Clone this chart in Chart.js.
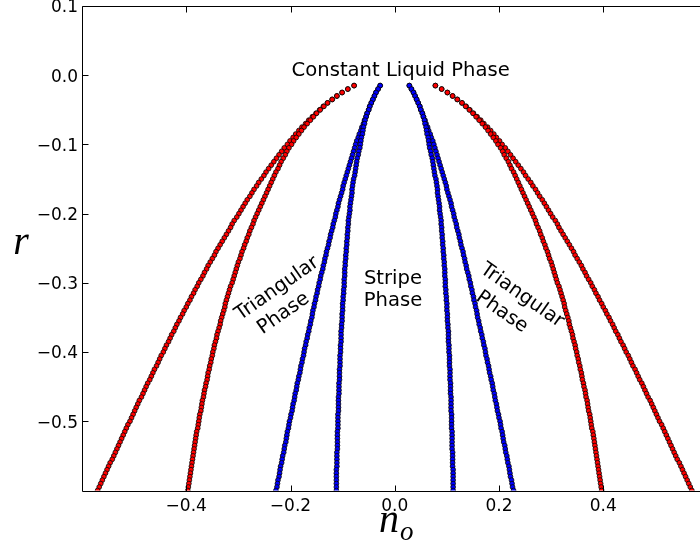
<!DOCTYPE html>
<html>
<head>
<meta charset="utf-8">
<title>Phase diagram</title>
<script src="https://cdn.jsdelivr.net/npm/chart.js@4.4.0/dist/chart.umd.min.js"></script>
<style>
  html, body { margin: 0; padding: 0; background: #fff; overflow: hidden; }
  #wrap { width: 700px; height: 547px; overflow: hidden; }
</style>
</head>
<body>
<div id="wrap"><canvas id="phase" width="712" height="547"></canvas></div>
<script>
// r values shared by every boundary curve
const rValues = [
  -0.015, -0.020, -0.025, -0.030, -0.035, -0.040, -0.045, -0.050, -0.055, -0.060,
  -0.065, -0.070, -0.075, -0.080, -0.085, -0.090, -0.095, -0.100, -0.105, -0.110,
  -0.115, -0.120, -0.125, -0.130, -0.135, -0.140, -0.145, -0.150, -0.155, -0.160,
  -0.165, -0.170, -0.175, -0.180, -0.185, -0.190, -0.195, -0.200, -0.205, -0.210,
  -0.215, -0.220, -0.225, -0.230, -0.235, -0.240, -0.245, -0.250, -0.255, -0.260,
  -0.265, -0.270, -0.275, -0.280, -0.285, -0.290, -0.295, -0.300, -0.305, -0.310,
  -0.315, -0.320, -0.325, -0.330, -0.335, -0.340, -0.345, -0.350, -0.355, -0.360,
  -0.365, -0.370, -0.375, -0.380, -0.385, -0.390, -0.395, -0.400, -0.405, -0.410,
  -0.415, -0.420, -0.425, -0.430, -0.435, -0.440, -0.445, -0.450, -0.455, -0.460,
  -0.465, -0.470, -0.475, -0.480, -0.485, -0.490, -0.495, -0.500, -0.505, -0.510,
  -0.515, -0.520, -0.525, -0.530, -0.535, -0.540, -0.545, -0.550, -0.555, -0.560,
  -0.565, -0.570, -0.575, -0.580, -0.585, -0.590, -0.595, -0.600
];

// |n_o| of each coexistence boundary at the r values above.
// The diagram is symmetric in n_o, every curve is drawn at +n_o and -n_o.

// liquid side of liquid / triangular coexistence (red, outer)
const liquidEdge = [
  0.078, 0.090, 0.101, 0.111, 0.120, 0.129, 0.137, 0.144, 0.151, 0.158,
  0.165, 0.171, 0.178, 0.184, 0.190, 0.195, 0.201, 0.206, 0.212, 0.217,
  0.222, 0.227, 0.232, 0.237, 0.242, 0.247, 0.251, 0.256, 0.261, 0.265,
  0.270, 0.274, 0.278, 0.283, 0.287, 0.291, 0.295, 0.299, 0.303, 0.308,
  0.312, 0.315, 0.319, 0.323, 0.327, 0.331, 0.335, 0.339, 0.343, 0.346,
  0.350, 0.354, 0.358, 0.361, 0.365, 0.368, 0.372, 0.376, 0.379, 0.383,
  0.386, 0.390, 0.393, 0.397, 0.400, 0.404, 0.407, 0.411, 0.414, 0.418,
  0.421, 0.424, 0.428, 0.431, 0.434, 0.438, 0.441, 0.444, 0.448, 0.451,
  0.454, 0.457, 0.461, 0.464, 0.467, 0.470, 0.474, 0.477, 0.480, 0.483,
  0.486, 0.490, 0.493, 0.496, 0.499, 0.502, 0.505, 0.508, 0.512, 0.515,
  0.518, 0.521, 0.524, 0.527, 0.530, 0.533, 0.536, 0.539, 0.542, 0.546,
  0.549, 0.552, 0.555, 0.558, 0.561, 0.564, 0.567, 0.570
];

// triangular side of liquid / triangular coexistence (red, inner)
const triangleLiquidEdge = [
  0.078, 0.090, 0.101, 0.111, 0.120, 0.129, 0.136, 0.143, 0.150, 0.156,
  0.162, 0.168, 0.174, 0.179, 0.184, 0.189, 0.194, 0.198, 0.203, 0.207,
  0.210, 0.214, 0.218, 0.221, 0.224, 0.228, 0.231, 0.234, 0.237, 0.240,
  0.243, 0.246, 0.249, 0.252, 0.255, 0.258, 0.261, 0.264, 0.267, 0.270,
  0.272, 0.275, 0.278, 0.280, 0.283, 0.285, 0.288, 0.290, 0.293, 0.295,
  0.297, 0.300, 0.302, 0.304, 0.306, 0.308, 0.310, 0.312, 0.315, 0.317,
  0.319, 0.321, 0.323, 0.325, 0.326, 0.328, 0.330, 0.332, 0.334, 0.335,
  0.337, 0.339, 0.341, 0.342, 0.344, 0.346, 0.347, 0.349, 0.350, 0.352,
  0.353, 0.355, 0.356, 0.358, 0.359, 0.360, 0.362, 0.363, 0.365, 0.366,
  0.367, 0.369, 0.370, 0.371, 0.372, 0.374, 0.375, 0.376, 0.377, 0.378,
  0.380, 0.381, 0.382, 0.383, 0.384, 0.385, 0.386, 0.387, 0.388, 0.389,
  0.390, 0.391, 0.392, 0.393, 0.394, 0.395, 0.396, 0.397
];

// triangular side of triangular / stripe coexistence (blue, outer)
const triangleStripeEdge = [
  0.028, 0.032, 0.036, 0.039, 0.042, 0.045, 0.048, 0.050, 0.053, 0.055,
  0.058, 0.060, 0.063, 0.065, 0.068, 0.070, 0.073, 0.075, 0.077, 0.079,
  0.081, 0.083, 0.085, 0.087, 0.089, 0.091, 0.093, 0.095, 0.097, 0.099,
  0.100, 0.102, 0.104, 0.106, 0.108, 0.109, 0.111, 0.113, 0.114, 0.116,
  0.118, 0.119, 0.121, 0.123, 0.124, 0.126, 0.127, 0.129, 0.131, 0.132,
  0.134, 0.135, 0.137, 0.138, 0.140, 0.142, 0.143, 0.145, 0.146, 0.148,
  0.149, 0.151, 0.152, 0.154, 0.155, 0.157, 0.158, 0.159, 0.161, 0.162,
  0.164, 0.165, 0.167, 0.168, 0.170, 0.171, 0.173, 0.174, 0.175, 0.177,
  0.178, 0.180, 0.181, 0.182, 0.184, 0.185, 0.187, 0.188, 0.189, 0.191,
  0.192, 0.193, 0.195, 0.196, 0.197, 0.199, 0.200, 0.202, 0.203, 0.204,
  0.206, 0.207, 0.208, 0.209, 0.211, 0.212, 0.213, 0.215, 0.216, 0.217,
  0.219, 0.220, 0.221, 0.222, 0.224, 0.225, 0.226, 0.228
];

// stripe side of triangular / stripe coexistence (blue, inner)
const stripeEdge = [
  0.028, 0.032, 0.036, 0.039, 0.042, 0.045, 0.048, 0.050, 0.053, 0.055,
  0.057, 0.058, 0.060, 0.061, 0.062, 0.064, 0.065, 0.066, 0.067, 0.069,
  0.070, 0.072, 0.073, 0.074, 0.075, 0.076, 0.077, 0.079, 0.080, 0.081,
  0.082, 0.082, 0.083, 0.084, 0.085, 0.086, 0.086, 0.087, 0.088, 0.089,
  0.089, 0.090, 0.090, 0.091, 0.091, 0.092, 0.092, 0.093, 0.093, 0.094,
  0.094, 0.095, 0.095, 0.096, 0.096, 0.096, 0.097, 0.097, 0.097, 0.098,
  0.098, 0.099, 0.099, 0.100, 0.100, 0.100, 0.101, 0.101, 0.101, 0.102,
  0.102, 0.103, 0.103, 0.103, 0.103, 0.104, 0.104, 0.104, 0.105, 0.105,
  0.105, 0.105, 0.106, 0.106, 0.106, 0.106, 0.107, 0.107, 0.107, 0.107,
  0.108, 0.108, 0.108, 0.108, 0.108, 0.109, 0.109, 0.109, 0.109, 0.109,
  0.110, 0.110, 0.110, 0.110, 0.110, 0.110, 0.111, 0.111, 0.111, 0.111,
  0.111, 0.112, 0.112, 0.112, 0.112, 0.112, 0.112, 0.112
];

// axis ticks
const xTicks = [-0.4, -0.2, 0.0, 0.2, 0.4];
const xTickLabels = ['\u22120.4', '\u22120.2', '0.0', '0.2', '0.4'];
const yTicks = [0.1, 0.0, -0.1, -0.2, -0.3, -0.4, -0.5];
const yTickLabels = ['0.1', '0.0', '\u22120.1', '\u22120.2', '\u22120.3', '\u22120.4', '\u22120.5'];

const RED = '#ff0000';
const BLUE = '#0000ff';

// one branch of a boundary, sign picks the side of n_o = 0
function branch(label, values, sign, color) {
  return {
    label: label,
    data: values.map((v, i) => ({ x: sign * v, y: rValues[i] })),
    showLine: false,
    backgroundColor: color,
    borderColor: '#000',
    borderWidth: 0.8,
    pointRadius: 2.4,
    pointHoverRadius: 2.4,
    clip: 0
  };
}

// spines, inward tick marks, phase names and axis titles
const decorations = {
  id: 'decorations',
  afterDraw(chart) {
    const ctx = chart.ctx;
    const area = chart.chartArea;
    const xs = chart.scales.x;
    const ys = chart.scales.y;
    const left = Math.round(area.left) + 0.5;
    const right = Math.round(area.right) + 0.5;
    const top = Math.round(area.top) + 0.5;
    const bottom = Math.round(area.bottom) + 0.5;

    ctx.save();
    ctx.strokeStyle = '#000';
    ctx.lineWidth = 1;
    ctx.beginPath();
    ctx.rect(left, top, right - left, bottom - top);
    ctx.stroke();

    // tick marks point into the plot on all four sides
    const len = 6;
    ctx.beginPath();
    xTicks.forEach(v => {
      const px = Math.round(xs.getPixelForValue(v)) + 0.5;
      ctx.moveTo(px, bottom); ctx.lineTo(px, bottom - len);
      ctx.moveTo(px, top); ctx.lineTo(px, top + len);
    });
    yTicks.forEach(v => {
      const py = Math.round(ys.getPixelForValue(v)) + 0.5;
      ctx.moveTo(left, py); ctx.lineTo(left + len, py);
      ctx.moveTo(right, py); ctx.lineTo(right - len, py);
    });
    ctx.stroke();

    // phase names, placed in data coordinates; dx/dy give the second line's
    // offset in the text's own frame
    ctx.fillStyle = '#000';
    ctx.font = "19.6px 'DejaVu Sans'";
    ctx.textAlign = 'center';
    ctx.textBaseline = 'alphabetic';
    const phases = [
      { lines: ['Constant Liquid Phase'], n: 0.0114, r: -0.0015, angle: 0, dx: 0, dy: 0 },
      { lines: ['Stripe', 'Phase'], n: -0.0034, r: -0.3013, angle: 0, dx: 0, dy: 22 },
      { lines: ['Triangular', 'Phase'], n: -0.220, r: -0.3145, angle: -35, dx: -9, dy: 24 },
      { lines: ['Triangular', 'Phase'], n: 0.2384, r: -0.3244, angle: 35, dx: -7, dy: 25 }
    ];
    phases.forEach(p => {
      ctx.save();
      ctx.translate(xs.getPixelForValue(p.n), ys.getPixelForValue(p.r));
      ctx.rotate(p.angle * Math.PI / 180);
      p.lines.forEach((line, i) => ctx.fillText(line, i * p.dx, i * p.dy));
      ctx.restore();
    });

    // axis titles
    ctx.font = "italic 40px 'Liberation Serif'";
    ctx.textAlign = 'center';
    ctx.fillText('r', 21, 254);
    ctx.textAlign = 'left';
    ctx.fillText('n', 379, 532);
    ctx.font = "italic 27px 'Liberation Serif'";
    ctx.fillText('o', 400, 540);
    ctx.restore();
  }
};

const tickFont = { family: "'DejaVu Sans'", size: 17 };

new Chart(document.getElementById('phase'), {
  type: 'scatter',
  data: {
    datasets: [
      branch('stripe (left)', stripeEdge, -1, BLUE),
      branch('stripe (right)', stripeEdge, 1, BLUE),
      branch('triangular/stripe (left)', triangleStripeEdge, -1, BLUE),
      branch('triangular/stripe (right)', triangleStripeEdge, 1, BLUE),
      branch('triangular/liquid (left)', triangleLiquidEdge, -1, RED),
      branch('triangular/liquid (right)', triangleLiquidEdge, 1, RED),
      branch('liquid (left)', liquidEdge, -1, RED),
      branch('liquid (right)', liquidEdge, 1, RED)
    ]
  },
  options: {
    responsive: false,
    animation: false,
    devicePixelRatio: 1,
    events: [],
    layout: { padding: { top: 6, right: 4.5, left: 0, bottom: 0 } },
    plugins: {
      legend: { display: false },
      tooltip: { enabled: false }
    },
    scales: {
      x: {
        type: 'linear',
        min: -0.6,
        max: 0.6,
        grid: { display: false, drawTicks: false },
        border: { display: false },
        afterBuildTicks: s => { s.ticks = xTicks.map(v => ({ value: v })); },
        afterFit: s => { s.height = 56.5; s.paddingLeft = 0; s.paddingRight = 0; },
        ticks: {
          callback: (v, i) => xTickLabels[i],
          font: tickFont,
          color: '#000',
          padding: 6,
          maxRotation: 0,
          autoSkip: false
        }
      },
      y: {
        type: 'linear',
        min: -0.6,
        max: 0.1,
        grid: { display: false, drawTicks: false },
        border: { display: false },
        afterBuildTicks: s => { s.ticks = yTicks.map(v => ({ value: v })); },
        afterFit: s => { s.width = 82; s.paddingTop = 0; s.paddingBottom = 0; },
        ticks: {
          callback: (v, i) => yTickLabels[i],
          font: tickFont,
          color: '#000',
          padding: 4,
          labelOffset: 2,
          autoSkip: false
        }
      }
    }
  },
  plugins: [decorations]
});
</script>
</body>
</html>
